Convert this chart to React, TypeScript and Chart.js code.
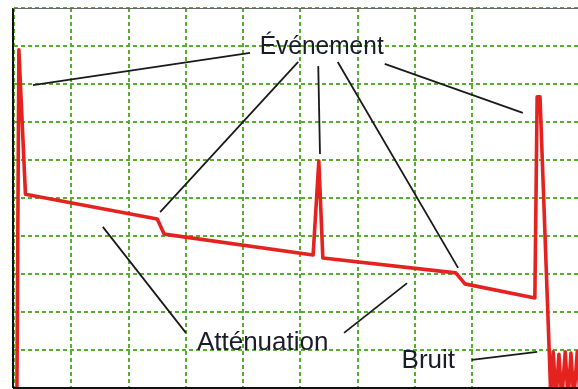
import React, { useEffect, useRef } from "react";
import { Chart, registerables } from "chart.js";

Chart.register(...registerables);

// Trace (x in grid divisions, y in dB divisions)
const traceX = [0.05, 0.085, 0.2, 2.5, 2.62, 5.22, 5.32, 5.39, 7.71, 7.87, 9.09, 9.13, 9.18, 9.34, 9.37, 9.41, 9.46, 9.51, 9.56, 9.62, 9.67, 9.72, 9.77, 9.83, 9.88];
const traceY = [-0.3, 8.9, 5.1, 4.45, 4.05, 3.5, 5.97, 3.42, 3.03, 2.74, 2.37, 7.66, 7.66, 1.0, -0.3, 0.95, -0.3, 0.89, -0.3, 0.95, -0.3, 0.92, -0.3, 0.95, -0.3];

// Axes ranges
const xMin = 0;
const xMax = 9.843;
const yMin = 0;
const yMax = 10;

// Annotation labels
const labelTexts = ["Événement", "Atténuation", "Bruit"];
const labelX = [5.37, 4.34, 7.23];
const labelY = [8.8, 1.0, 0.53];
const labelWidths = [124, 136, 54];

// Annotation leader lines: [x1, y1, x2, y2] in data units
const leaderX1 = [4.12, 4.96, 5.31, 5.65, 6.47, 3.0, 5.76, 7.99];
const leaderY1 = [8.82, 8.58, 8.47, 8.58, 8.53, 1.45, 1.45, 0.74];
const leaderX2 = [0.33, 2.55, 5.34, 7.75, 8.88, 1.55, 6.86, 9.13];
const leaderY2 = [7.97, 4.63, 6.16, 3.16, 7.24, 4.24, 2.76, 0.95];

const annotationPlugin = {
  id: "otdrAnnotations",
  afterDraw(chart: any) {
    const { ctx, chartArea, scales } = chart;
    const xs = scales.x;
    const ys = scales.y;
    ctx.save();
    // frame
    ctx.strokeStyle = "#111";
    ctx.lineWidth = 2;
    ctx.beginPath();
    ctx.moveTo(chartArea.left - 1, chartArea.top);
    ctx.lineTo(chartArea.left - 1, chartArea.bottom);
    ctx.stroke();
    ctx.beginPath();
    ctx.moveTo(chartArea.left - 1, chartArea.bottom);
    ctx.lineTo(chartArea.right, chartArea.bottom);
    ctx.stroke();
    ctx.strokeStyle = "#666";
    ctx.lineWidth = 1;
    ctx.beginPath();
    ctx.moveTo(chartArea.left - 1, chartArea.top + 0.5);
    ctx.lineTo(chartArea.right, chartArea.top + 0.5);
    ctx.stroke();

    // leader lines
    ctx.strokeStyle = "#1a1a1a";
    ctx.lineWidth = 1.8;
    for (let i = 0; i < leaderX1.length; i++) {
      ctx.beginPath();
      ctx.moveTo(xs.getPixelForValue(leaderX1[i]), ys.getPixelForValue(leaderY1[i]));
      ctx.lineTo(xs.getPixelForValue(leaderX2[i]), ys.getPixelForValue(leaderY2[i]));
      ctx.stroke();
    }
    // labels
    ctx.fillStyle = "#1a1c2a";
    ctx.font = "26px 'Liberation Sans', Arial, sans-serif";
    ctx.textAlign = "center";
    ctx.textBaseline = "alphabetic";
    for (let i = 0; i < labelTexts.length; i++) {
      ctx.fillText(labelTexts[i], xs.getPixelForValue(labelX[i]), ys.getPixelForValue(labelY[i]), labelWidths[i]);
    }
    ctx.restore();
  },
};

export default function App() {
  const ref = useRef<HTMLCanvasElement>(null);
  useEffect(() => {
    if (!ref.current) return;
    const gridColor = (c: any) => (c.tick && Math.abs(c.tick.value - Math.round(c.tick.value)) < 1e-6 ? "#56ad2e" : "rgba(0,0,0,0)");
    const chart = new Chart(ref.current, {
      type: "line",
      data: {
        datasets: [
          {
            data: traceX.map((x, i) => ({ x, y: traceY[i] })),
            borderColor: "#e42320",
            borderWidth: 3.6,
            borderJoinStyle: "round",
            pointRadius: 0,
            tension: 0,
            fill: false,
          },
        ],
      },
      options: {
        animation: false,
        responsive: false,
        layout: { padding: { left: 14, top: 8, right: 0, bottom: 1 } },
        plugins: { legend: { display: false }, tooltip: { enabled: false } },
        scales: {
          x: {
            type: "linear",
            min: xMin,
            max: xMax,
            ticks: { display: false, stepSize: 1 },
            grid: { color: gridColor, lineWidth: 2, drawTicks: false },
            border: { display: false, dash: [4, 3] },
            afterFit: (s: any) => { s.height = 0; },
          },
          y: {
            type: "linear",
            min: yMin,
            max: yMax,
            ticks: { display: false, stepSize: 1 },
            grid: { color: gridColor, lineWidth: 2, drawTicks: false },
            border: { display: false, dash: [4, 3] },
            afterFit: (s: any) => { s.width = 0; },
          },
        },
      },
      plugins: [annotationPlugin],
    } as any);
    return () => chart.destroy();
  }, []);
  return (
    <div style={{ position: "absolute", left: 0, top: 0, width: 578, height: 389, background: "#fff" }}>
      <canvas ref={ref} width={578} height={389} />
    </div>
  );
}
